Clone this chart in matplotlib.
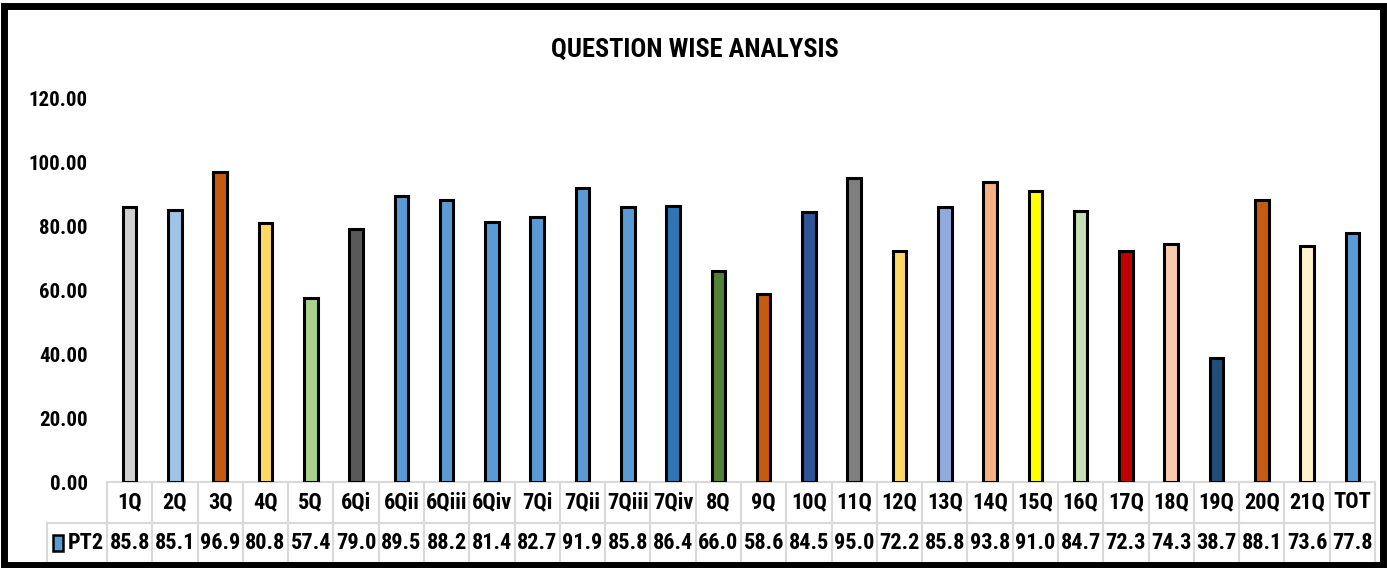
import matplotlib
matplotlib.use("Agg")
import matplotlib.pyplot as plt
from matplotlib import font_manager
from matplotlib.patches import Rectangle
from matplotlib.transforms import blended_transform_factory

categories = ["1Q", "2Q", "3Q", "4Q", "5Q", "6Qi", "6Qii", "6Qiii", "6Qiv", "7Qi",
              "7Qii", "7Qiii", "7Qiv", "8Q", "9Q", "10Q", "11Q", "12Q", "13Q", "14Q",
              "15Q", "16Q", "17Q", "18Q", "19Q", "20Q", "21Q", "TOT"]
values = [85.8, 85.1, 96.9, 80.8, 57.4, 79.0, 89.5, 88.2, 81.4, 82.7,
          91.9, 85.8, 86.4, 66.0, 58.6, 84.5, 95.0, 72.2, 85.8, 93.8,
          91.0, 84.7, 72.3, 74.3, 38.7, 88.1, 73.6, 77.8]
colors = ["#D0D0D0", "#9DC3E6", "#C55A11", "#FFD966", "#A9D18E", "#595959", "#5B9BD5",
          "#5B9BD5", "#5B9BD5", "#5B9BD5", "#5B9BD5", "#5B9BD5", "#2E75B6", "#548235",
          "#C55A11", "#2F5597", "#7F7F7F", "#FFD966", "#8FAADC", "#F4B183", "#FFFF00",
          "#C5E0B4", "#C00000", "#F8CBAD", "#1F4E79", "#C55A11", "#FFF2CC", "#5B9BD5"]
series_name = "PT2"
series_color = "#5B9BD5"
yticks = [0, 20, 40, 60, 80, 100, 120]
title = "QUESTION WISE ANALYSIS"

avail = {f.name for f in font_manager.fontManager.ttflist}
fam = "DejaVu Sans"
for cand in ["Liberation Sans Narrow", "Roboto Condensed", "Open Sans Condensed", "Lato"]:
    if cand in avail:
        fam = cand
        break
plt.rcParams["font.family"] = [fam, "DejaVu Sans"]

W, H = 1387, 568
fig = plt.figure(figsize=(W / 100, H / 100), dpi=100)
ax = fig.add_axes([107 / W, (H - 482) / H, (1375 - 107) / W, (482 - 98) / H])

x = list(range(len(categories)))
ax.bar(x, values, width=0.3, color=colors, edgecolor="black", linewidth=2.2, zorder=3)
ax.set_xlim(-0.5, len(categories) - 0.5)
ax.set_ylim(0, 120)
ax.set_yticks(yticks)
ax.set_yticklabels([f"{v:.2f}" for v in yticks], fontsize=15, fontweight="bold")
ax.tick_params(axis="y", length=0, pad=14)
ax.set_xticks([])
for s in ax.spines.values():
    s.set_visible(False)

# data table beneath the axis
tr = blended_transform_factory(ax.transData, ax.transAxes)
r1, r2 = -41 / 384, -81 / 384
gcol = "#D9D9D9"
unit = 1268 / 28
lab_left = -0.5 - 60 / unit
n = len(categories)
ax.plot([-0.5, n - 0.5], [0, 0], transform=tr, color=gcol, lw=1.5, clip_on=False)
ax.plot([lab_left, n - 0.5], [r1, r1], transform=tr, color=gcol, lw=1.5, clip_on=False)
ax.plot([lab_left, n - 0.5], [r2, r2], transform=tr, color=gcol, lw=1.5, clip_on=False)
ax.plot([lab_left, lab_left], [r1, r2], transform=tr, color=gcol, lw=1.5, clip_on=False)
for i in range(n + 1):
    ax.plot([i - 0.5, i - 0.5], [0, r2], transform=tr, color=gcol, lw=1.5, clip_on=False)
for i, (c, v) in enumerate(zip(categories, values)):
    ax.text(i, r1 / 2, c, transform=tr, ha="center", va="center", fontsize=16,
            fontweight="bold", clip_on=False)
    ax.text(i, (r1 + r2) / 2, f"{v:.1f}", transform=tr, ha="center", va="center",
            fontsize=16, fontweight="bold", clip_on=False)
ax.add_patch(Rectangle((lab_left + 6 / unit, (r1 + r2) / 2 - 0.022), 10 / unit, 0.044,
                       transform=tr, facecolor=series_color, edgecolor="black",
                       lw=1.8, clip_on=False))
ax.text(lab_left + 21 / unit, (r1 + r2) / 2, series_name, transform=tr, ha="left",
        va="center", fontsize=16, fontweight="bold", clip_on=False)

fig.text(695 / W, 1 - 50 / H, title, ha="center", va="center", fontsize=19, fontweight="bold")

# outer frame
fig.add_artist(Rectangle((4 / W, 3 / H), (W - 8) / W, (H - 9) / H, transform=fig.transFigure,
                         fill=False, edgecolor="black", lw=5))

fig.savefig("out.png", dpi=100)
